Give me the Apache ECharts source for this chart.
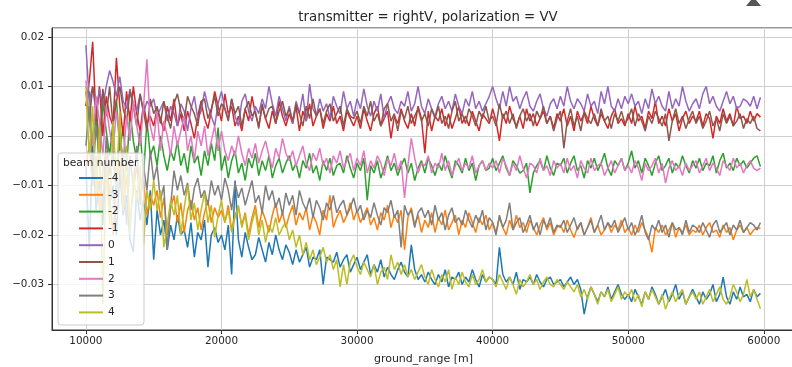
<!DOCTYPE html>
<html>
<head>
<meta charset="utf-8">
<script src="https://cdn.jsdelivr.net/npm/echarts@6/dist/echarts.min.js"></script>
<style>
  html, body { margin: 0; padding: 0; background: #fff; }
  #chart { width: 792px; height: 367px; }
</style>
</head>
<body>
<div id="chart"></div>
<script>
// beam values, in units of 1e-4, one point every 250 m of ground range starting at 10000 m
const rangeStart = 10000;
const rangeStep = 250;
const beamNames = ['-4', '-3', '-2', '-1', '0', '1', '2', '3', '4'];

const beamM4 = [
  -60, -230, -20, -150, -90, -180, -50, -140, -100, -200, -70, -160, -120, -210, -235, -110, -170, -130, -180, -110,
  -250, -150, -200, -170, -230, -180, -210, -160, -200, -190, -225, -175, -245, -195, -210, -170, -265, -200, -185, -215,
  -200, -230, -180, -280, -90, -210, -245, -195, -225, -250, -240, -205, -230, -255, -215, -240, -200, -230, -250, -220,
  -235, -260, -230, -255, -240, -225, -265, -245, -250, -230, -300, -245, -250, -255, -235, -265, -250, -240, -275, -260,
  -245, -270, -255, -240, -280, -260, -275, -250, -285, -265, -280, -290, -270, -255, -275, -285, -220, -270, -290, -280,
  -295, -275, -290, -300, -280, -295, -270, -305, -285, -290, -275, -300, -285, -295, -270, -290, -305, -280, -295, -285,
  -290, -300, -225, -280, -295, -285, -300, -275, -310, -290, -295, -285, -300, -280, -295, -305, -290, -285, -300, -295,
  -290, -305, -295, -285, -300, -290, -310, -360, -325, -305, -320, -335, -315, -325, -305, -330, -315, -300, -320, -330,
  -320, -335, -310, -325, -340, -315, -330, -305, -320, -340, -325, -310, -335, -320, -300, -330, -315, -340, -325, -310,
  -325, -340, -315, -330, -320, -300, -335, -320, -285, -325, -340, -315, -330, -305, -325, -320, -335, -310, -325, -318
];
const beamM3 = [
  -60, -20, -100, -40, -150, -70, -30, -120, -200, -90, -50, -140, -80, -170, -110, -60, -130, -90, -160, -120,
  -140, -110, -165, -125, -200, -145, -120, -175, -135, -195, -150, -130, -170, -145, -190, -155, -130, -175, -145, -165,
  -150, -175, -140, -190, -160, -145, -180, -155, -200, -165, -140, -185, -150, -170, -195, -160, -135, -175, -155, -185,
  -160, -140, -180, -155, -170, -145, -190, -160, -175, -200, -150, -170, -120, -185, -165, -150, -175, -160, -135, -170,
  -150, -175, -160, -145, -180, -165, -190, -155, -170, -140, -185, -160, -175, -150, -230, -165, -145, -180, -160, -195,
  -170, -185, -155, -195, -165, -180, -150, -190, -175, -160, -200, -170, -185, -155, -175, -195, -165, -180, -160, -190,
  -175, -195, -165, -185, -200, -170, -190, -160, -185, -175, -195, -170, -185, -200, -180, -165, -190, -175, -200, -185,
  -180, -195, -170, -190, -205, -185, -175, -200, -185, -165, -195, -180, -200, -190, -175, -195, -180, -190, -170, -195,
  -185, -200, -180, -195, -175, -190, -205, -235, -185, -195, -180, -200, -190, -175, -205, -185, -195, -180, -200, -190,
  -195, -180, -200, -185, -175, -195, -190, -205, -180, -195, -185, -210, -190, -180, -195, -185, -200, -190, -185, -187
];
const beamM2 = [
  60, 90, -20, 40, -60, 70, 10, -40, 30, 75, -30, 20, -70, 50, -10, -50, 10, -80, 30, -40,
  -20, -60, 0, -40, -70, -30, -50, -10, -60, -35, -75, -20, -55, -40, -80, -30, -60, -15, -50, 17,
  -70, -40, -85, -50, -30, -75, -55, -90, -45, -65, -35, -80, -50, -70, -40, -85, -60, -45, -75, -55,
  -40, -70, -55, -85, -50, -65, -35, -75, -60, -90, -50, -70, -45, -80, -60, -55, -75, -40, -65, -85,
  -55, -70, -45, -130, -60, -75, -50, -85, -65, -40, -70, -55, -80, -60, -45, -75, -55, -90, -65, -50,
  -75, -45, -60, -80, -55, -70, -40, -65, -85, -50, -60, -75, -45, -70, -55, -90, -60, -50, -70, -65,
  -45, -70, -55, -40, -65, -80, -50, -60, -75, -70, -55, -115, -75, -60, -50, -70, -40, -65, -80, -55,
  -60, -45, -75, -55, -40, -70, -60, -85, -50, -65, -45, -70, -55, -35, -65, -80, -50, -60, -45, -70,
  -55, -30, -65, -50, -75, -45, -60, -80, -55, -40, -70, -60, -45, -75, -55, -65, -40, -60, -75, -50,
  -65, -45, -70, -55, -60, -40, -75, -50, -35, -65, -55, -70, -45, -60, -50, -65, -55, -45, -40, -62
];
const beamM1 = [
  60, 110, 190, 30, 100, 0, 80, 40, 20, 158, 60, 0, 90, 30, 100, 45, 10, 65, 25, 40,
  20, 55, 35, 10, 60, 30, 75, 20, 45, 10, 50, 25, -5, 40, 70, 35, 15, 50, 90, 60,
  30, 85, 45, 60, 20, 40, 10, 55, 30, 80, 45, 20, 60, 35, 15, 50, 25, 70, 40, 20,
  45, 25, 60, 10, 50, 30, 65, 20, 40, 55, 15, 45, 30, 60, 25, 40, 10, 50, 35, 20,
  40, 15, 55, 30, 10, 45, 60, 20, 35, 50, -5, 40, 25, 55, 30, 15, 45, 20, 60, 35,
  -35, 50, 10, 40, 30, 55, 20, 45, 15, 35, 60, 25, 40, 20, 50, 30, 10, 45, 35, 25,
  55, 30, -10, 45, 25, 60, 35, 20, 40, 15, 55, 30, 45, 20, 35, 50, 25, 40, 15, 45,
  30, 55, 20, 40, 10, 50, 30, 45, 25, 60, 35, 20, 45, 30, 15, 40, 55, 25, 35, 20,
  45, 25, 60, 30, 40, 15, 50, 35, 70, 25, 40, 20, 55, 30, 45, 10, 35, 50, 25, 40,
  30, 50, 20, 45, 35, -5, 40, 25, 55, 30, 45, 20, 60, 35, 40, 25, 50, 30, 45, 38
];
const beam0 = [
  183, 70, 100, 45, 95, 60, 100, 132, 110, 80, 120, 70, 55, 95, 65, 50, 85, 45, 70, 60,
  75, 40, 55, 70, 30, 60, 45, 20, 65, 50, 10, 55, 80, 35, 50, 90, 60, 40, 20, 65,
  90, 55, 35, 75, 40, 20, 70, 85, 50, 30, 60, 45, 75, 55, 100, 65, 40, 80, 55, 30,
  60, 25, 70, 45, 85, 30, 105, 55, 40, 75, 50, 65, 35, 80, 60, 45, 90, 55, 70, 40,
  75, 55, 95, 60, 40, 70, 50, 85, 35, 65, 80, 55, 45, 70, 60, 90, 50, 65, 100, 60,
  45, 75, 55, 40, 65, 80, 55, 70, 50, 85, 60, 45, 75, 60, 90, 55, 70, 50, 65, 80,
  100, 75, 55, 90, 60, 100, 70, 80, 55, 75, 90, 60, 50, 70, 85, 55, 40, 65, 75, 55,
  80, 60, 100, 70, 55, 75, 65, 50, 85, 60, 70, 45, 90, 65, 100, 60, 50, 75, 55, 80,
  65, 85, 60, 70, 45, 75, 55, 95, 65, 80, 60, 50, 90, 55, 75, 60, 100, 70, 50, 65,
  75, 55, 85, 100, 65, 80, 60, 50, 70, 90, 65, 80, 55, 60, 75, 70, 60, 80, 55, 78
];
const beam1 = [
  90, 30, 100, 60, -20, 95, 40, 100, 20, 70, 100, 55, 30, 90, 60, 20, 85, 50, 10, 75,
  45, 60, 25, 70, 40, 15, 65, 85, 50, 30, 80, 60, 45, 20, 70, 75, 35, 55, 80, 40,
  65, 55, 30, 75, 45, 60, 20, 55, 70, 40, 50, 15, 65, 35, 55, 60, 25, 50, 70, 40,
  55, 30, 65, 45, 20, 60, 35, 75, 40, 55, 25, 50, 65, 30, 45, 60, 20, 55, 40, 35,
  50, 25, 60, 40, 70, 30, 45, 20, 55, 65, 30, 45, 10, 50, 35, 60, 25, 40, 55, 30,
  45, 20, 55, 35, 60, 25, 40, 15, 50, 70, 30, 45, 25, 55, 40, 20, 50, 35, 60, 30,
  40, 20, 65, 35, 50, 25, 45, 15, 40, 55, 30, 45, 20, 50, 35, 60, 25, 40, 10, 35,
  50, -25, 30, 55, 20, 40, 10, 50, 35, 25, 45, 20, 55, 30, 40, 15, 45, 30, 50, 25,
  35, 55, 20, 45, 30, 10, 40, 25, 50, 35, 20, 45, -10, 30, 55, 25, 40, 15, 35, 50,
  25, 40, 15, 30, 50, 20, 35, 10, 45, 25, 40, 20, 30, 45, 15, 35, 25, 40, 15, 10
];
const beam2 = [
  112, 40, -20, 80, 30, -40, 60, 10, -30, 50, 0, -50, 40, -10, 70, 20, -20, 60, 155, 20,
  -10, 50, -30, 30, 0, -40, 20, -20, 10, 40, -30, 0, -50, 10, -20, 20, -40, -10, 20, -30,
  10, -30, -50, -20, -40, 0, -35, -60, -25, -45, -15, -55, -30, -10, -40, -65, -25, -45, -5, -35,
  -50, -30, -60, -40, -20, -55, -70, -35, -50, -25, -60, -45, -75, -40, -55, -30, -65, -50, -35, -70,
  -45, -60, -30, -75, -50, -65, -40, -55, -80, -45, -60, -35, -70, -50, -125, -60, -5, -45, -75, -55,
  -60, -40, -75, -55, -65, -35, -70, -50, -80, -60, -45, -70, -55, -65, -40, -75, -60, -50, -70, -55,
  -65, -50, -75, -45, -60, -80, -55, -70, -40, -65, -85, -55, -60, -75, -45, -70, -60, -80, -50, -65,
  -55, -75, -45, -70, -60, -85, -50, -65, -75, -45, -70, -60, -55, -80, -65, -50, -75, -60, -45, -70,
  -60, -75, -50, -65, -90, -55, -70, -60, -45, -75, -55, -95, -65, -50, -70, -60, -80, -55, -70, -60,
  -50, -75, -60, -45, -70, -55, -65, -80, -50, -60, -70, -45, -65, -55, -75, -60, -50, -65, -70, -65
];
const beam3 = [
  -20, 60, -90, 20, -50, -150, 0, -80, -30, -120, 10, -60, -180, -40, -100, -20, -140, -60, -110, -30,
  -90, -60, -130, -100, -230, -140, -70, -110, -80, -120, -95, -150, -105, -85, -125, -110, -140, -90, -120, -100,
  -130, -85, -110, -150, -95, -125, -105, -140, -115, -90, -135, -120, -155, -100, -130, -110, -145, -125, -160, -115,
  -140, -120, -160, -110, -135, -150, -125, -165, -130, -145, -170, -135, -150, -120, -155, -140, -130, -160, -145, -125,
  -155, -140, -170, -150, -165, -135, -160, -180, -145, -155, -130, -165, -150, -225, -140, -160, -150, -185, -155, -145,
  -165, -150, -180, -140, -170, -155, -190, -160, -145, -175, -165, -180, -150, -170, -185, -160, -175, -150, -190, -165,
  -175, -200, -160, -185, -170, -135, -190, -175, -165, -195, -180, -160, -190, -175, -200, -170, -185, -165, -195, -180,
  -185, -170, -195, -180, -165, -190, -175, -200, -185, -170, -195, -180, -160, -190, -175, -185, -170, -195, -180, -165,
  -190, -175, -200, -185, -160, -195, -210, -180, -190, -170, -195, -180, -205, -175, -190, -185, -200, -170, -195, -180,
  -185, -195, -175, -190, -205, -180, -170, -195, -185, -175, -200, -180, -190, -170, -195, -185, -175, -180, -190, -175
];
const beam4 = [
  100, -40, 60, -120, 20, -340, -60, -180, 30, -100, 50, -150, -20, -200, -80, -130, -60, -220, -110, -150,
  -90, -150, -110, -225, -180, -130, -160, -120, -200, -145, -100, -170, -135, -190, -150, -115, -175, -140, -205, -160,
  -130, -175, -150, -195, -165, -140, -185, -160, -210, -175, -150, -200, -170, -215, -180, -195, -165, -200, -185, -175,
  -210, -190, -225, -200, -240, -215, -250, -230, -260, -245, -225, -255, -240, -270, -250, -305, -260, -300, -255, -240,
  -265, -280, -255, -270, -285, -260, -300, -275, -265, -290, -240, -270, -255, -280, -260, -285, -270, -290, -275, -260,
  -285, -300, -270, -290, -305, -280, -295, -270, -310, -285, -300, -275, -295, -305, -280, -300, -290, -270, -295, -285,
  -290, -305, -280, -295, -310, -285, -300, -320, -290, -305, -295, -280, -300, -290, -310, -295, -285, -300, -305, -290,
  -300, -310, -295, -305, -315, -300, -325, -310, -330, -305, -320, -340, -315, -325, -310, -335, -320, -305, -330, -315,
  -325, -310, -335, -320, -345, -315, -330, -310, -325, -340, -320, -350, -330, -315, -335, -320, -310, -340, -325, -315,
  -330, -315, -340, -325, -310, -335, -320, -305, -330, -340, -325, -300, -315, -335, -320, -290, -325, -310, -330, -349
];
const beamValues = [beamM4, beamM3, beamM2, beamM1, beam0, beam1, beam2, beam3, beam4];
const valueUnit = 1e-4;

const palette = ['#1f77b4', '#ff7f0e', '#2ca02c', '#d62728', '#9467bd',
                 '#8c564b', '#e377c2', '#7f7f7f', '#bcbd22'];
const fontFamily = '"DejaVu Sans", sans-serif';
const textColor = '#262626';

const chart = echarts.init(document.getElementById('chart'));

const series = beamNames.map((name, k) => ({
  name: name,
  type: 'line',
  showSymbol: false,
  symbol: 'none',
  z: 2,
  color: palette[k],
  lineStyle: { width: 1.5, color: palette[k] },
  data: beamValues[k].map((v, i) => [rangeStart + i * rangeStep, v * valueUnit]),
}));

const option = {
  animation: false,
  backgroundColor: '#fff',
  title: {
    text: 'transmitter = rightV, polarization = VV',
    left: 423,
    textAlign: 'center',
    top: 6,
    textStyle: { fontFamily, fontSize: 13.3, fontWeight: 'normal', color: textColor },
  },
  grid: {
    left: 52, right: -3, top: 28, bottom: 37,
    show: true, borderColor: '#333', borderWidth: 1,
    containLabel: false,
    outerBoundsMode: 'none',
  },
  xAxis: {
    type: 'value',
    min: 7500, max: 62300,
    splitNumber: 5,
    name: 'ground_range [m]',
    nameLocation: 'middle',
    nameGap: 24,
    nameTextStyle: { fontFamily, fontSize: 11, color: textColor },
    axisLine: { show: true, onZero: false, lineStyle: { color: '#333', width: 1 } },
    axisTick: { show: true, length: 4, lineStyle: { color: '#333' } },
    axisLabel: { fontFamily, fontSize: 10.4, color: textColor, margin: 6,
                 showMinLabel: false, showMaxLabel: false,
                 formatter: v => String(v) },
    splitLine: { show: true, lineStyle: { color: '#cfcfcf', width: 1 } },
  },
  yAxis: {
    type: 'value',
    min: -0.0392, max: 0.0218,
    splitNumber: 6,
    axisLine: { show: true, onZero: false, lineStyle: { color: '#333', width: 1 } },
    axisTick: { show: true, length: 4, lineStyle: { color: '#333' } },
    axisLabel: {
      fontFamily, fontSize: 10.4, color: textColor, margin: 8,
      showMinLabel: false, showMaxLabel: false,
      formatter: v => (Math.abs(v) < 1e-9 ? '0.00' : v.toFixed(2).replace('-', '\u2212')),
    },
    splitLine: { show: true, lineStyle: { color: '#cfcfcf', width: 1 } },
  },
  legend: {
    orient: 'vertical',
    left: 79, top: 171,
    padding: 0,
    z: 20,
    icon: 'rect',
    itemWidth: 24, itemHeight: 2,
    itemGap: 2.8,
    itemTextGap: 8,
    selectedMode: false,
    data: beamNames,
    textStyle: { fontFamily, fontSize: 10.6, color: textColor, lineHeight: 14 },
  },
  graphic: [
    {
      type: 'rect', z: 10, silent: true,
      shape: { x: 58, y: 153, width: 86, height: 172, r: 3 },
      style: { fill: 'rgba(255,255,255,0.8)', stroke: '#cccccc', lineWidth: 1 },
    },
    {
      type: 'text', z: 21, silent: true,
      x: 63, y: 163,
      style: { text: 'beam number', fontFamily: 'DejaVu Sans', fontSize: 10.7,
               fill: textColor, verticalAlign: 'middle' },
    },
    {
      type: 'polygon', z: 21, silent: true,
      shape: { points: [[751, 0], [756, 0], [761, 6], [746, 6]] },
      style: { fill: '#555' },
    },
  ],
  series: series,
};

chart.setOption(option);
</script>
</body>
</html>
